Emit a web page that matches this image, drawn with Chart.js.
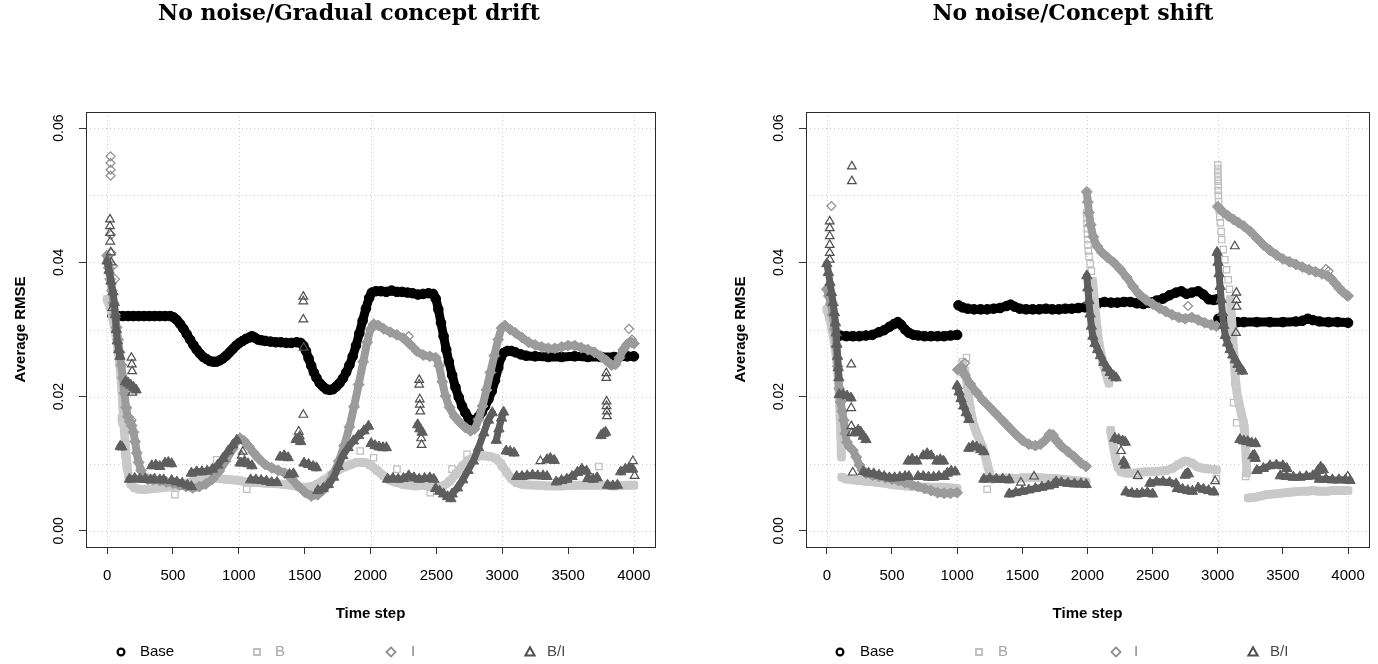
<!DOCTYPE html>
<html>
<head>
<meta charset="utf-8">
<script src="https://cdn.jsdelivr.net/npm/chart.js@4.4.1/dist/chart.umd.min.js"></script>
<style>
  html, body { margin: 0; padding: 0; background: #fff; width: 1378px; height: 664px; overflow: hidden; }
  .panel { position: absolute; top: 0; width: 689px; height: 664px; }
  #drift { left: 0; }
  #shift { left: 689px; }
</style>
</head>
<body>
<div class="panel" id="drift"><canvas id="cDrift" width="689" height="664"></canvas></div>
<div class="panel" id="shift"><canvas id="cShift" width="689" height="664"></canvas></div>
<script>
// Axis ticks and grid positions
const timeTicks = [0, 500, 1000, 1500, 2000, 2500, 3000, 3500, 4000];
const timeGrid = [0, 1000, 2000, 3000, 4000];
const rmseTicks = [0, 0.02, 0.04, 0.06];
const rmseGrid = [0, 0.01, 0.02, 0.03, 0.04, 0.05, 0.06];
const seriesNames = ['Base', 'B', 'I', 'B/I'];

// ---- No noise / Gradual concept drift : [time step, average RMSE], null = break in the run ----
const driftBase = [
  [40,.0321],[80,.0320],[120,.0320],[160,.0320],[200,.0320],[240,.0320],[280,.0320],[320,.0320],[360,.0320],[400,.0320],[440,.0320],[480,.0320],
  [505,.0318],[530,.0314],[555,.0308],[580,.0301],[605,.0293],[630,.0285],[655,.0277],[680,.0270],[705,.0264],[730,.0259],[755,.0256],[780,.0253],
  [805,.0252],[830,.0252],[855,.0254],[880,.0257],[905,.0261],[930,.0266],[955,.0271],[980,.0276],[1005,.0280],[1030,.0283],[1055,.0286],[1080,.0288],
  [1100,.0290],[1120,.0288],[1145,.0285],[1170,.0284],[1200,.0283],[1240,.0282],[1280,.0281],[1320,.0281],[1360,.0280],[1400,.0280],[1440,.0281],[1470,.0280],
  [1490,.0276],[1510,.0268],[1530,.0257],[1550,.0246],[1570,.0236],[1590,.0228],[1615,.0220],[1640,.0215],[1665,.0211],[1690,.0210],[1715,.0211],[1740,.0215],
  [1765,.0220],[1790,.0227],[1815,.0236],[1840,.0247],[1865,.0260],[1890,.0276],[1915,.0294],[1940,.0313],[1965,.0331],[1990,.0347],[2010,.0355],[2040,.0357],
  [2080,.0357],[2120,.0356],[2160,.0358],[2200,.0356],[2240,.0356],[2280,.0355],[2320,.0354],[2360,.0352],[2400,.0353],[2440,.0354],[2475,.0353],[2495,.0346],
  [2515,.0330],[2535,.0310],[2555,.0290],[2575,.0270],[2595,.0252],[2620,.0232],[2645,.0214],[2670,.0199],[2695,.0186],[2720,.0176],[2745,.0168],[2770,.0164],
  [2795,.0165],[2820,.0170],[2845,.0177],[2870,.0186],[2895,.0196],[2920,.0208],[2945,.0224],[2970,.0243],[2990,.0258],[3010,.0265],[3040,.0268],[3070,.0268],
  [3100,.0266],[3140,.0263],[3180,.0261],[3250,.0260],[3350,.0259],[3450,.0259],[3550,.0260],[3650,.0259],[3750,.0259],[3850,.0259],[3950,.0260],[4000,.0260]
];
const driftB = [
  [0,.0345],[20,.0335],[40,.0320],[60,.0300],[80,.0275],[95,.0250],[108,.0222],[118,.0190],[128,.0160],[138,.0130],[148,.0105],[160,.0085],[180,.0070],
  [210,.0064],[250,.0062],[300,.0062],[350,.0063],[400,.0064],[450,.0065],[500,.0066],[550,.0068],[600,.0071],[650,.0074],[700,.0076],[750,.0078],[800,.0079],
  [850,.0078],[900,.0077],[950,.0076],[1000,.0075],[1050,.0073],[1100,.0072],[1150,.0072],[1200,.0071],[1250,.0071],[1300,.0070],[1350,.0069],[1400,.0068],
  [1450,.0066],[1500,.0065],[1550,.0066],[1600,.0070],[1650,.0076],[1700,.0083],[1750,.0090],[1800,.0095],[1850,.0099],[1900,.0102],[1950,.0102],[2000,.0098],
  [2050,.0090],[2100,.0082],[2150,.0075],[2200,.0072],[2250,.0069],[2300,.0068],[2350,.0067],[2400,.0068],[2450,.0066],[2500,.0065],[2550,.0067],[2600,.0074],
  [2650,.0085],[2700,.0097],[2750,.0106],[2800,.0110],[2850,.0112],[2900,.0111],[2950,.0108],[2990,.0100],[3030,.0088],[3070,.0078],[3110,.0072],[3160,.0069],
  [3250,.0068],[3350,.0067],[3450,.0067],[3550,.0068],[3650,.0068],[3750,.0068],[3850,.0067],[3950,.0068],[4000,.0068]
];
const driftBMarks = [
  [110,.0168],[114,.0161],[135,.0114],[147,.0096],[515,.0054],[832,.0106],[1060,.0062],[1922,.0119],[2023,.0109],
  [2201,.0092],[2454,.0057],[2619,.0092],[2733,.0114],[3000,.0096],[3734,.0096]
];
const driftI = [
  [0,.0410],[12,.0392],[24,.0375],[36,.0358],[48,.0340],[60,.0322],[72,.0303],[84,.0285],[96,.0266],[108,.0247],[120,.0228],[132,.0205],[144,.0184],
  [158,.0170],[172,.0163],[186,.0157],[200,.0147],[213,.0133],[226,.0116],[240,.0102],[258,.0090],[280,.0081],[310,.0077],[350,.0076],[400,.0075],[450,.0073],
  [500,.0071],[550,.0068],[600,.0066],[650,.0064],[700,.0066],[750,.0070],[800,.0077],[850,.0089],[900,.0104],[950,.0121],[985,.0134],[1010,.0138],[1040,.0134],
  [1075,.0126],[1110,.0117],[1150,.0108],[1200,.0099],[1250,.0094],[1300,.0090],[1350,.0086],[1400,.0078],[1450,.0067],[1500,.0058],[1550,.0052],[1600,.0054],
  [1640,.0061],[1680,.0071],[1720,.0086],[1760,.0104],[1800,.0127],[1840,.0155],[1875,.0185],[1910,.0218],[1945,.0252],[1975,.0281],[2000,.0300],[2025,.0308],
  [2060,.0306],[2100,.0301],[2150,.0296],[2200,.0292],[2250,.0287],[2300,.0278],[2350,.0268],[2400,.0262],[2450,.0260],[2495,.0258],[2520,.0246],[2545,.0222],
  [2570,.0201],[2600,.0184],[2640,.0170],[2680,.0161],[2720,.0154],[2760,.0149],[2790,.0152],[2820,.0166],[2850,.0186],[2880,.0210],[2910,.0236],[2940,.0261],
  [2970,.0285],[2995,.0302],[3020,.0306],[3060,.0300],[3100,.0295],[3150,.0288],[3200,.0281],[3250,.0277],[3300,.0274],[3350,.0272],[3400,.0272],[3450,.0274],
  [3500,.0276],[3550,.0276],[3600,.0273],[3650,.0270],[3700,.0266],[3750,.0260],[3790,.0254],[3830,.0247],[3860,.0248],[3890,.0258],[3920,.0270],[3950,.0278],
  [3980,.0281],[4000,.0279]
];
const driftIMarks = [
  [26,.0558],[26,.0548],[27,.0538],[27,.0529],[30,.0441],[33,.0414],[45,.0395],[60,.0375],[150,.0183],[185,.0165],[2290,.0290],[3962,.0301],[3985,.0285]
];
const driftBI = [
  [0,.0402],[15,.0388],[30,.0372],[45,.0356],[55,.0340],[63,.0322],[70,.0300],[78,.0283],[88,.0270],[98,.0260],null,
  [100,.0126],[112,.0125],null,
  [140,.0222],[160,.0220],[180,.0217],[200,.0214],[220,.0210],null,
  [170,.0077],[210,.0078],[250,.0077],[290,.0077],[330,.0076],[360,.0077],null,
  [340,.0097],[370,.0098],[400,.0096],null,
  [400,.0076],[430,.0076],null,
  [440,.0101],[465,.0102],[490,.0100],null,
  [490,.0075],[530,.0073],[570,.0071],[610,.0068],[640,.0066],null,
  [640,.0086],[680,.0088],[720,.0088],[760,.0089],[800,.0092],[840,.0098],[880,.0108],[920,.0119],[955,.0128],[985,.0135],null,
  [1010,.0101],[1040,.0102],[1070,.0100],[1100,.0097],null,
  [1090,.0076],[1130,.0076],[1170,.0075],[1210,.0074],[1250,.0072],[1290,.0072],null,
  [1315,.0110],[1345,.0112],[1375,.0109],null,
  [1385,.0084],[1415,.0085],null,
  [1435,.0136],[1455,.0138],[1470,.0133],null,
  [1495,.0101],[1530,.0099],[1565,.0096],[1590,.0094],null,
  [1600,.0060],[1640,.0063],[1680,.0069],[1720,.0080],[1755,.0096],[1790,.0112],[1830,.0124],[1870,.0134],[1910,.0142],[1950,.0149],[1985,.0156],null,
  [2005,.0130],[2035,.0127],[2065,.0125],[2095,.0124],[2120,.0124],null,
  [2130,.0077],[2170,.0078],[2210,.0077],[2250,.0078],[2290,.0082],[2330,.0079],[2370,.0077],[2410,.0078],[2450,.0079],[2480,.0077],null,
  [2358,.0158],[2375,.0152],[2392,.0147],null,
  [2495,.0063],[2525,.0059],[2555,.0055],[2585,.0051],[2610,.0048],null,
  [2620,.0055],[2660,.0064],[2700,.0076],[2740,.0090],[2780,.0104],[2820,.0124],[2860,.0146],[2895,.0165],[2925,.0176],null,
  [2955,.0135],[2975,.0152],[2995,.0168],[3010,.0177],null,
  [3030,.0119],[3060,.0118],[3090,.0116],null,
  [3110,.0081],[3150,.0081],[3190,.0082],[3230,.0083],[3270,.0082],[3310,.0082],[3340,.0081],null,
  [3340,.0106],[3365,.0108],[3395,.0105],null,
  [3410,.0073],[3450,.0075],[3490,.0077],[3530,.0081],[3570,.0087],[3605,.0092],[3640,.0089],null,
  [3650,.0078],[3690,.0077],[3720,.0079],null,
  [3750,.0142],[3768,.0145],[3785,.0147],null,
  [3800,.0068],[3840,.0067],[3875,.0068],null,
  [3900,.0088],[3935,.0092],[3965,.0094],[3990,.0092]
];
const driftBIMarks = [
  [22,.0464],[22,.0454],[22,.0444],[24,.0431],[28,.0415],[32,.0400],[40,.0332],[185,.0258],[188,.0248],[190,.0238],[192,.0206],
  [1030,.0118],[1022,.0112],[1455,.0148],[1462,.0141],[1490,.0349],[1490,.0342],[1490,.0315],[1492,.0273],[1490,.0173],
  [2370,.0225],[2370,.0218],[2374,.0196],[2374,.0188],[2378,.0178],[2385,.0138],[2388,.0128],[3290,.0104],[3722,.0079],
  [3790,.0235],[3790,.0228],[3792,.0193],[3792,.0186],[3795,.0178],[3795,.0171],[3992,.0104],[4005,.0082]
];

// ---- No noise / Concept shift ----
const shiftBase = [
  [60,.0292],[100,.0291],[150,.0290],[200,.0290],[250,.0290],[300,.0291],[350,.0292],[400,.0296],[440,.0299],[480,.0304],[515,.0308],[545,.0311],[570,.0307],
  [600,.0300],[630,.0295],[665,.0292],[700,.0291],[750,.0290],[800,.0290],[850,.0290],[900,.0290],[950,.0291],[1000,.0292],null,
  [1010,.0336],[1040,.0333],[1080,.0331],[1130,.0330],[1180,.0330],[1230,.0330],[1280,.0331],[1330,.0332],[1380,.0335],[1410,.0337],[1440,.0334],[1480,.0331],
  [1530,.0330],[1580,.0330],[1630,.0330],[1680,.0331],[1730,.0330],[1780,.0330],[1830,.0331],[1880,.0331],[1930,.0332],[1980,.0333],[2030,.0336],[2080,.0339],
  [2130,.0341],[2180,.0340],[2230,.0340],[2280,.0341],[2330,.0341],[2380,.0339],[2430,.0338],[2480,.0340],[2530,.0343],[2580,.0346],[2630,.0351],[2680,.0355],
  [2720,.0357],[2760,.0353],[2800,.0355],[2850,.0357],[2890,.0352],[2930,.0345],[2970,.0344],[2995,.0345],null,
  [3005,.0316],[3050,.0313],[3100,.0312],[3150,.0311],[3200,.0311],[3300,.0311],[3400,.0311],[3500,.0311],[3600,.0312],[3650,.0313],[3690,.0316],[3730,.0314],
  [3780,.0312],[3850,.0311],[3920,.0311],[4000,.0310]
];
const shiftB = [
  [0,.0330],[20,.0318],[40,.0300],[60,.0278],[75,.0255],[88,.0225],[98,.0190],[106,.0150],[112,.0110],null,
  [115,.0080],[150,.0077],[200,.0076],[250,.0075],[300,.0074],[350,.0073],[400,.0072],[450,.0071],[500,.0069],[550,.0068],[600,.0067],[650,.0066],[700,.0066],
  [750,.0065],[800,.0065],[850,.0065],[900,.0065],[950,.0064],[1000,.0063],null,
  [1045,.0248],[1060,.0238],[1075,.0220],[1090,.0198],[1105,.0178],[1120,.0163],[1145,.0148],[1170,.0136],[1195,.0124],[1215,.0112],[1235,.0097],[1250,.0085],null,
  [1265,.0077],[1300,.0078],[1350,.0078],[1400,.0079],[1450,.0078],[1500,.0079],[1550,.0079],[1600,.0080],[1650,.0079],[1700,.0078],[1750,.0078],[1800,.0077],
  [1850,.0076],[1900,.0075],[1950,.0074],[1990,.0073],null,
  [2040,.0372],[2055,.0340],[2070,.0308],[2090,.0278],[2115,.0254],[2140,.0236],[2165,.0220],null,
  [2178,.0150],[2195,.0130],[2215,.0110],[2235,.0095],[2260,.0088],[2300,.0086],[2350,.0086],[2400,.0087],[2450,.0088],[2500,.0088],[2550,.0089],[2600,.0090],
  [2650,.0093],[2700,.0099],[2750,.0104],[2800,.0101],[2850,.0095],[2900,.0093],[2950,.0092],[2990,.0091],null,
  [3095,.0345],[3105,.0318],[3115,.0290],[3125,.0258],[3135,.0228],[3148,.0205],[3162,.0190],[3180,.0176],[3198,.0160],[3210,.0136],[3218,.0108],[3224,.0086],null,
  [3235,.0049],[3280,.0050],[3330,.0052],[3380,.0054],[3430,.0055],[3480,.0056],[3530,.0057],[3580,.0058],[3630,.0059],[3680,.0059],[3730,.0060],[3780,.0059],
  [3830,.0059],[3880,.0060],[3930,.0060],[3980,.0060],[4000,.0060]
];
const shiftBMarks = [
  [1040,.0252],[1071,.0258],[2180,.0148],[2190,.0138],[3131,.0221],[3122,.0191],[3169,.0186],[3145,.0161],[3207,.0154],[3220,.0087],[3214,.0081],
  [1230,.0062],[2990,.0078],[2390,.0082],
  [1994,.0474],[1996,.0466],[1997,.0458],[1999,.0450],[2000,.0442],[2002,.0434],[2004,.0426],[2007,.0417],[2012,.0409],[2020,.0398],[2030,.0387],
  [3000,.0545],[3000,.0539],[3001,.0533],[3001,.0527],[3002,.0521],[3003,.0514],[3004,.0507],[3005,.0500],[3007,.0490],[3011,.0478],[3015,.0468],
  [3020,.0459],[3026,.0446],[3030,.0434],[3042,.0419],[3055,.0404],[3068,.0389],[3080,.0374],[3090,.0360]
];
const shiftI = [
  [0,.0360],[15,.0350],[30,.0338],[45,.0322],[60,.0300],[72,.0275],[84,.0245],[95,.0212],[105,.0192],[118,.0178],[130,.0165],[142,.0145],[155,.0132],
  [175,.0125],[200,.0120],[225,.0110],[250,.0098],[275,.0090],[300,.0086],[350,.0083],[400,.0081],[450,.0079],[500,.0077],[550,.0075],[600,.0072],[650,.0069],
  [700,.0066],[750,.0063],[800,.0060],[850,.0057],[900,.0056],[950,.0056],[1000,.0057],null,
  [1005,.0240],[1030,.0244],[1060,.0232],[1100,.0219],[1150,.0206],[1200,.0194],[1250,.0184],[1300,.0174],[1350,.0164],[1400,.0154],[1450,.0144],[1500,.0135],
  [1550,.0129],[1600,.0127],[1640,.0129],[1680,.0136],[1710,.0144],[1735,.0143],[1765,.0134],[1800,.0126],[1850,.0118],[1900,.0110],[1950,.0101],[1990,.0096],null,
  [1995,.0505],[2003,.0490],[2012,.0474],[2025,.0456],[2045,.0438],[2075,.0424],[2110,.0415],[2150,.0408],[2200,.0400],[2250,.0390],[2300,.0378],[2350,.0364],
  [2400,.0352],[2450,.0344],[2500,.0338],[2550,.0332],[2600,.0327],[2650,.0322],[2700,.0318],[2750,.0316],[2800,.0318],[2850,.0314],[2900,.0310],[2950,.0307],
  [2990,.0305],null,
  [3000,.0483],[3040,.0475],[3080,.0469],[3120,.0464],[3160,.0459],[3200,.0454],[3250,.0446],[3300,.0436],[3350,.0426],[3400,.0418],[3450,.0411],[3500,.0405],
  [3550,.0401],[3600,.0397],[3650,.0393],[3700,.0389],[3750,.0386],[3800,.0383],[3840,.0380],[3870,.0376],[3900,.0369],[3930,.0362],[3960,.0356],[3990,.0351],
  [4000,.0350]
];
const shiftIMarks = [[35,.0484],[2772,.0335],[1060,.0250],[3830,.0390],[3850,.0387]];
const shiftBI = [
  [0,.0398],[12,.0385],[24,.0370],[36,.0355],[48,.0340],[58,.0325],[66,.0310],[72,.0295],[77,.0278],[82,.0260],[87,.0243],[92,.0228],null,
  [95,.0203],[125,.0203],[155,.0201],[185,.0198],null,
  [215,.0146],[240,.0150],[260,.0147],[280,.0141],[300,.0136],null,
  [280,.0088],[320,.0086],[360,.0085],[400,.0083],[440,.0081],[480,.0079],[520,.0079],[560,.0080],[600,.0081],[630,.0081],null,
  [625,.0104],[655,.0107],[690,.0104],null,
  [700,.0081],[740,.0081],[780,.0080],[820,.0080],[860,.0081],[900,.0081],null,
  [740,.0112],[770,.0115],[800,.0112],null,
  [845,.0104],[870,.0106],[895,.0104],null,
  [925,.0086],[955,.0089],[985,.0088],null,
  [1000,.0216],[1015,.0207],[1030,.0197],[1050,.0186],[1070,.0176],[1090,.0166],null,
  [1090,.0123],[1120,.0126],[1150,.0125],[1180,.0121],[1205,.0118],null,
  [1205,.0077],[1250,.0078],[1300,.0077],[1350,.0077],[1400,.0076],null,
  [1400,.0055],[1450,.0057],[1500,.0059],[1550,.0061],[1600,.0063],[1650,.0065],[1700,.0067],[1740,.0069],null,
  [1760,.0073],[1800,.0072],[1850,.0071],[1900,.0070],[1950,.0070],[1990,.0069],null,
  [1995,.0380],[2003,.0362],[2011,.0343],[2020,.0323],[2030,.0305],[2042,.0290],[2058,.0279],[2078,.0270],[2100,.0261],[2125,.0251],[2150,.0243],[2175,.0236],
  [2200,.0231],[2220,.0228],null,
  [2210,.0138],[2240,.0136],[2270,.0134],[2290,.0132],null,
  [2278,.0103],[2290,.0098],null,
  [2295,.0058],[2340,.0056],[2380,.0055],[2420,.0056],[2460,.0057],[2500,.0055],null,
  [2480,.0071],[2530,.0073],[2580,.0073],[2630,.0072],[2680,.0070],null,
  [2690,.0063],[2730,.0062],[2770,.0060],[2805,.0059],null,
  [2750,.0083],[2775,.0085],null,
  [2850,.0064],[2890,.0062],[2930,.0060],[2970,.0058],null,
  [2995,.0415],[3002,.0400],[3010,.0383],[3018,.0364],[3026,.0345],[3036,.0325],[3046,.0306],[3058,.0291],[3075,.0280],[3095,.0270],[3115,.0262],[3135,.0255],
  [3155,.0248],[3175,.0242],[3190,.0238],null,
  [3170,.0136],[3200,.0134],[3230,.0133],[3260,.0131],[3290,.0130],null,
  [3270,.0112],[3288,.0108],null,
  [3300,.0090],[3350,.0093],[3400,.0097],[3450,.0098],[3500,.0097],[3530,.0093],null,
  [3480,.0082],[3530,.0081],[3580,.0080],[3630,.0080],[3680,.0081],[3730,.0082],[3760,.0082],null,
  [3770,.0090],[3790,.0095],[3810,.0091],null,
  [3780,.0077],[3830,.0077],[3880,.0076],[3930,.0076],[3980,.0076],[4015,.0075]
];
const shiftBIMarks = [
  [22,.0461],[22,.0451],[22,.0439],[22,.0426],[22,.0414],[22,.0404],[192,.0543],[192,.0521],[187,.0248],[187,.0183],[188,.0156],[190,.0146],[199,.0087],
  [1489,.0072],[1590,.0081],[2258,.0119],[2386,.0082],[2765,.0086],[2980,.0074],[3131,.0424],[3143,.0355],[3143,.0344],[3145,.0334],[3140,.0295],
  [3283,.0113],[3998,.0081]
];

// ---- Drawing styles ----
const SANS = '"Liberation Sans", Arial, Helvetica, sans-serif';
const styles = {
  'Base': { color: '#000000', mark: '#000000', legendText: '#000000', pointStyle: 'circle',   radius: 4.8, line: 9, order: 3 },
  'B':    { color: '#c9c9c9', mark: '#bdbdbd', legendText: '#a6a6a6', pointStyle: 'rect',     radius: 5,   line: 9, order: 2 },
  'I':    { color: '#9b9b9b', mark: '#8e8e8e', legendText: '#858585', pointStyle: 'rectRot',  radius: 5.5, line: 8, order: 1 },
  'B/I':  { color: '#5e5e5e', mark: '#4f4f4f', legendText: '#4a4a4a', pointStyle: 'triangle', radius: 6,   line: 7, order: 0 }
};

function toPoints(rows) {
  const out = [];
  let lastX = 0;
  for (const r of rows) {
    if (r === null) { out.push({ x: lastX, y: null }); }
    else { out.push({ x: r[0], y: r[1] }); lastX = r[0]; }
  }
  return out;
}

function trackDataset(name, rows) {
  const s = styles[name];
  return {
    label: name, data: toPoints(rows), order: s.order,
    showLine: true, spanGaps: false, tension: 0.2,
    borderColor: s.color, borderWidth: s.line, borderCapStyle: 'round', borderJoinStyle: 'round',
    pointStyle: s.pointStyle, pointRadius: s.radius, pointHoverRadius: s.radius,
    pointBackgroundColor: s.color, pointBorderColor: s.color, pointBorderWidth: 1
  };
}

function markDataset(name, rows) {
  const s = styles[name];
  const r = name === 'B/I' ? 5 : 4.5;
  return {
    label: name + ' (scattered)', data: toPoints(rows), order: s.order,
    showLine: false,
    pointStyle: s.pointStyle, pointRadius: r, pointHoverRadius: r,
    pointBackgroundColor: 'rgba(0,0,0,0)', pointBorderColor: s.mark, pointBorderWidth: 1.2
  };
}

function drawLegendMark(ctx, style, x, y, color) {
  ctx.save();
  ctx.strokeStyle = color;
  ctx.beginPath();
  if (style === 'circle') {
    ctx.lineWidth = 2.2; ctx.arc(x, y, 3.4, 0, Math.PI * 2);
  } else if (style === 'rect') {
    ctx.lineWidth = 1.8; ctx.rect(x - 3, y - 3, 6, 6);
  } else if (style === 'rectRot') {
    ctx.lineWidth = 1.8; ctx.moveTo(x, y - 4.6); ctx.lineTo(x + 4.6, y); ctx.lineTo(x, y + 4.6); ctx.lineTo(x - 4.6, y); ctx.closePath();
  } else {
    ctx.lineWidth = 2; ctx.moveTo(x, y - 4.8); ctx.lineTo(x + 4.6, y + 3.4); ctx.lineTo(x - 4.6, y + 3.4); ctx.closePath();
  }
  ctx.stroke();
  ctx.restore();
}

// Grid, frame, titles, rotated y labels and the legend row
const panelDecor = {
  id: 'panelDecor',
  beforeDatasetsDraw(chart, args, opts) {
    const { ctx, chartArea: a, scales: { x, y } } = chart;
    ctx.save();
    ctx.strokeStyle = '#cdcdcd';
    ctx.lineWidth = 1;
    ctx.setLineDash([1, 3]);
    for (const v of timeGrid) {
      const px = Math.round(x.getPixelForValue(v)) + 0.5;
      ctx.beginPath(); ctx.moveTo(px, a.top); ctx.lineTo(px, a.bottom); ctx.stroke();
    }
    for (const v of rmseGrid) {
      const py = Math.round(y.getPixelForValue(v)) + 0.5;
      ctx.beginPath(); ctx.moveTo(a.left, py); ctx.lineTo(a.right, py); ctx.stroke();
    }
    ctx.restore();
  },
  afterDatasetsDraw(chart) {
    const { ctx, chartArea: a } = chart;
    ctx.save();
    ctx.strokeStyle = '#2a2a2a';
    ctx.lineWidth = 1;
    ctx.strokeRect(Math.round(a.left) + 0.5, Math.round(a.top) + 0.5, Math.round(a.right - a.left), Math.round(a.bottom - a.top));
    ctx.restore();
  },
  afterDraw(chart, args, opts) {
    const { ctx, chartArea: a, scales: { y } } = chart;
    ctx.save();
    ctx.fillStyle = '#000';
    // panel title
    ctx.font = 'bold 22px "DejaVu Serif", "Liberation Serif", serif';
    ctx.textAlign = 'center';
    ctx.textBaseline = 'middle';
    ctx.fillText(opts.title, opts.titleX, 14);
    // y tick labels (rotated)
    ctx.font = '14px ' + SANS;
    ctx.textBaseline = 'alphabetic';
    for (const v of rmseTicks) {
      ctx.save();
      ctx.translate(a.left - 23, y.getPixelForValue(v));
      ctx.rotate(-Math.PI / 2);
      ctx.fillText(v.toFixed(2), 0, 0);
      ctx.restore();
    }
    // axis titles
    ctx.font = 'bold 15px ' + SANS;
    ctx.save();
    ctx.translate(a.left - 61, (a.top + a.bottom) / 2);
    ctx.rotate(-Math.PI / 2);
    ctx.fillText('Average RMSE', 0, 0);
    ctx.restore();
    ctx.textBaseline = 'middle';
    ctx.fillText('Time step', (a.left + a.right) / 2, 614);
    // legend row
    ctx.font = '15px ' + SANS;
    ctx.textAlign = 'left';
    seriesNames.forEach((name, k) => {
      const s = styles[name];
      const pos = opts.legend[k];
      drawLegendMark(ctx, s.pointStyle, pos[0], 652, s.legendText === '#000000' ? '#000' : s.mark);
      ctx.fillStyle = s.legendText;
      ctx.fillText(name, pos[1], 652);
    });
    ctx.restore();
  }
};

function buildPanel(canvasId, title, titleX, areaLeft, areaRight, legend, data) {
  const yAxisWidth = 40;
  const xAxisHeight = 60;
  const datasets = [
    trackDataset('B/I', data.bi), markDataset('B/I', data.biMarks),
    trackDataset('I', data.i), markDataset('I', data.iMarks),
    trackDataset('B', data.b), markDataset('B', data.bMarks),
    trackDataset('Base', data.base)
  ];
  return new Chart(document.getElementById(canvasId), {
    type: 'scatter',
    data: { datasets },
    options: {
      responsive: false,
      animation: false,
      devicePixelRatio: 1,
      events: [],
      layout: { padding: { left: areaLeft - yAxisWidth, right: 689 - areaRight, top: 112, bottom: 664 - 547 - xAxisHeight } },
      plugins: {
        legend: { display: false },
        tooltip: { enabled: false },
        panelDecor: { title, titleX, legend }
      },
      scales: {
        x: {
          type: 'linear', min: -160, max: 4160,
          afterBuildTicks: s => { s.ticks = timeTicks.map(v => ({ value: v })); },
          afterFit: s => { s.height = xAxisHeight; },
          grid: { drawOnChartArea: false, drawTicks: true, tickLength: 7, tickColor: '#333', lineWidth: 1 },
          border: { display: false },
          ticks: { color: '#000', font: { family: SANS, size: 15 }, padding: 13, maxRotation: 0, autoSkip: false, callback: v => String(v) }
        },
        y: {
          type: 'linear', min: -0.0024, max: 0.0624,
          afterBuildTicks: s => { s.ticks = rmseTicks.map(v => ({ value: v })); },
          afterFit: s => { s.width = yAxisWidth; },
          grid: { drawOnChartArea: false, drawTicks: true, tickLength: 7, tickColor: '#333', lineWidth: 1 },
          border: { display: false },
          ticks: { display: false }
        }
      }
    },
    plugins: [panelDecor]
  });
}

buildPanel('cDrift', 'No noise/Gradual concept drift', 349, 86, 655,
  [[121, 140], [257, 275], [391, 411], [530, 547]],
  { base: driftBase, b: driftB, bMarks: driftBMarks, i: driftI, iMarks: driftIMarks, bi: driftBI, biMarks: driftBIMarks });

buildPanel('cShift', 'No noise/Concept shift', 384, 117, 686,
  [[151, 171], [290, 309], [427, 445], [564, 581]],
  { base: shiftBase, b: shiftB, bMarks: shiftBMarks, i: shiftI, iMarks: shiftIMarks, bi: shiftBI, biMarks: shiftBIMarks });
</script>
</body>
</html>
